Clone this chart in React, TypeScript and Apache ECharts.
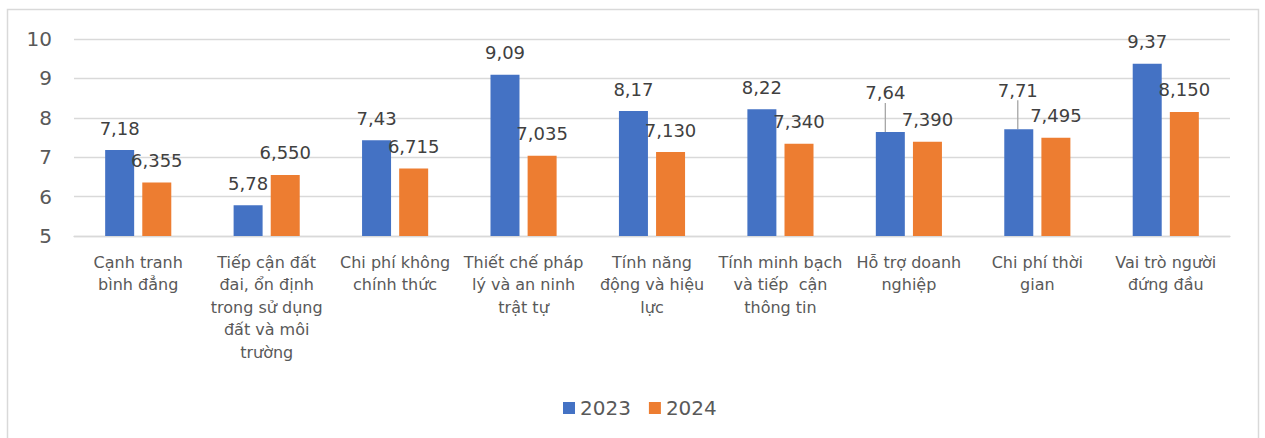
import React, { useEffect, useRef } from "react";
import * as echarts from "echarts";

const categories = [
  "Cạnh tranh\nbình đẳng",
  "Tiếp cận đất\nđai, ổn định\ntrong sử dụng\nđất và môi\ntrường",
  "Chi phí không\nchính thức",
  "Thiết chế pháp\nlý và an ninh\ntrật tự",
  "Tính năng\nđộng và hiệu\nlực",
  "Tính minh bạch\nvà tiếp  cận\nthông tin",
  "Hỗ trợ doanh\nnghiệp",
  "Chi phí thời\ngian",
  "Vai trò người\nđứng đầu",
];
const values2023 = [7.18, 5.78, 7.43, 9.09, 8.17, 8.22, 7.64, 7.71, 9.37];
const values2024 = [6.355, 6.55, 6.715, 7.035, 7.13, 7.34, 7.39, 7.495, 8.15];
const yTicks = { min: 5, max: 10, interval: 1 };

const FONT = "DejaVu Sans";
const TEXT = "#595959";
const GRID = "#D9D9D9";

// labels of 2023 moved up with a leader line (by category index)
const leaderMoves: Record<number, { dx: number; dy: number }> = {
  6: { dx: -5, dy: -17 },
  7: { dx: -1, dy: -17 },
};

export default function App() {
  const ref = useRef<HTMLDivElement>(null);
  useEffect(() => {
    if (!ref.current) return;
    const chart = echarts.init(ref.current, undefined, { renderer: "svg" });
    const fmt = (d: number) => (v: any) => Number(v.value).toFixed(d).replace(".", ",");
    const labelBase = {
      show: true,
      position: "top",
      distance: 12,
      fontFamily: FONT,
      fontSize: 18,
      lineHeight: 20,
      color: "#404040",
    };
    const data2023 = values2023.map((v, i) =>
      leaderMoves[i]
        ? { value: v, labelLine: { show: true, lineStyle: { color: "#A6A6A6", width: 1.3 } } }
        : { value: v, labelLine: { show: false } }
    );
    chart.setOption({
      animation: false,
      backgroundColor: "#fff",
      textStyle: { fontFamily: FONT },
      graphic: [
        {
          type: "rect",
          shape: { x: 7.5, y: 9.5, width: 1251, height: 440 },
          style: { fill: "none", stroke: GRID, lineWidth: 1.5 },
          silent: true,
        },
      ],
      grid: { left: 74, right: 35, top: 39, bottom: 202, containLabel: false },
      legend: {
        left: 558,
        top: 392,
        itemWidth: 12,
        itemHeight: 12,
        itemGap: 18,
        icon: "rect",
        textStyle: { fontFamily: FONT, fontSize: 20, color: TEXT, lineHeight: 22 },
        data: ["2023", "2024"],
      },
      xAxis: {
        type: "category",
        data: categories,
        axisLine: { show: true, lineStyle: { color: GRID, width: 1.3 } },
        axisTick: { show: false },
        axisLabel: {
          interval: 0,
          margin: 15,
          fontFamily: FONT,
          fontSize: 16,
          lineHeight: 22.5,
          color: TEXT,
          align: "center",
        },
      },
      yAxis: {
        type: "value",
        min: yTicks.min,
        max: yTicks.max,
        interval: yTicks.interval,
        axisLine: { show: false },
        axisTick: { show: false },
        splitLine: { lineStyle: { color: GRID, width: 1.3 } },
        axisLabel: { fontFamily: FONT, fontSize: 20, color: TEXT, margin: 22 },
      },
      series: [
        {
          name: "2023",
          type: "bar",
          data: data2023,
          barWidth: 29,
          barGap: "28%",
          itemStyle: { color: "#4472C4" },
          label: { ...labelBase, formatter: fmt(2) },
          labelLine: { show: false },
          labelLayout: (p: any) => leaderMoves[p.dataIndex] || {},
        },
        {
          name: "2024",
          type: "bar",
          data: values2024,
          barWidth: 29,
          itemStyle: { color: "#ED7D31" },
          label: { ...labelBase, formatter: fmt(3) },
        },
      ],
    });
    return () => chart.dispose();
  }, []);
  return (
    <div
      ref={ref}
      style={{ position: "fixed", left: 0, top: 0, width: 1265, height: 438 }}
    />
  );
}
